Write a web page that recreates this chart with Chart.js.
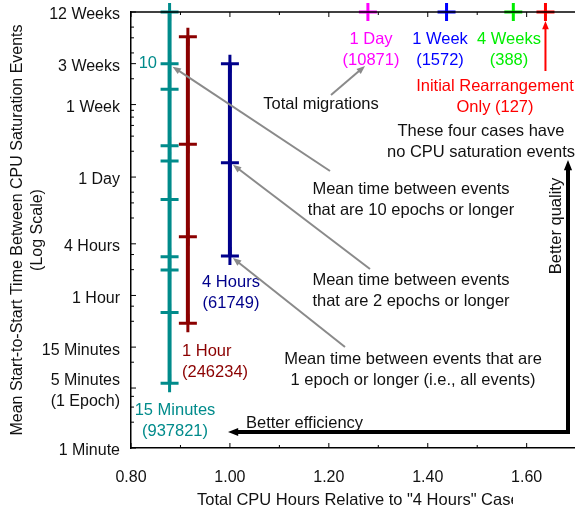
<!DOCTYPE html>
<html>
<head>
<meta charset="utf-8">
<script src="https://cdn.jsdelivr.net/npm/chart.js@4.4.0/dist/chart.umd.min.js"></script>
<style>
  html, body { margin: 0; padding: 0; background: #fff; overflow: hidden; }
</style>
</head>
<body>
<canvas id="satChart" width="600" height="512"></canvas>
<script>
// x = total CPU hours relative to "4 Hours" case, y = minutes between events (log)
const xTicks = [0.8, 1.0, 1.2, 1.4, 1.6];
const xMinorTicks = [0.9, 1.1, 1.3, 1.5, 1.7];
const yTicks = [1, 5, 15, 60, 240, 1440, 10080, 30240, 120960];
const yTickLabels = ['1 Minute', ['5 Minutes', '(1 Epoch)'], '15 Minutes', '1 Hour', '4 Hours', '1 Day', '1 Week', '3 Weeks', '12 Weeks'];
const yMinorTicks = [2, 3, 4, 10, 30, 45, 120, 180, 480, 720, 960, 2880, 4320, 5760, 7200, 8640, 20160, 40320, 60480, 80640];

// cases with saturation events
const min15X = 0.878;
const min15Times = [120960, 30240, 15160, 3340, 2210, 790, 170, 119, 38, 5.7];
const hour1X = 0.915;
const hour1Times = [62200, 3465, 290, 28.4];
const hour4X = 1.0;
const hour4Times = [30240, 2115, 173];
const migrations = [937821, 246234, 61749];

// cases with no saturation events (drawn at the top)
const noEventNames = ['1 Day', '1 Week', '4 Weeks', 'Initial Rearrangement'];
const noEventX = [1.279, 1.438, 1.573, 1.638];
const noEventMigrations = [10871, 1572, 388, 127];
const topValue = 120960;

const teal = '#008b8b', darkRed = '#8b0000', navy = '#00008b';
const noEventColors = ['#ff00ff', '#0000ff', '#00ee00', '#ff0000'];
const FONT = '"Liberation Sans", Arial, sans-serif';
const ink = '#111';
const xTitle = 'Total CPU Hours Relative to "4 Hours" Case';

function seriesSet(label, xv, times, color) {
  return {
    label: label,
    data: times.map(t => ({ x: xv, y: t })),
    showLine: true,
    borderColor: color,
    backgroundColor: color,
    borderWidth: 4,
    pointStyle: 'cross',
    pointRadius: 9,
    pointHoverRadius: 9,
    pointBorderWidth: 3,
    pointBorderColor: color,
    clip: false
  };
}

const datasets = [
  seriesSet('15 Minutes', min15X, min15Times, teal),
  seriesSet('1 Hour', hour1X, hour1Times, darkRed),
  seriesSet('4 Hours', hour4X, hour4Times, navy)
];
noEventNames.forEach((n, i) => {
  datasets.push(seriesSet(n, noEventX[i], [topValue], noEventColors[i]));
});

function arrow(ctx, x1, y1, x2, y2, color, width, head) {
  const ang = Math.atan2(y2 - y1, x2 - x1);
  ctx.strokeStyle = color;
  ctx.fillStyle = color;
  ctx.lineWidth = width;
  ctx.beginPath();
  ctx.moveTo(x1, y1);
  ctx.lineTo(x2 - Math.cos(ang) * head * 0.7, y2 - Math.sin(ang) * head * 0.7);
  ctx.stroke();
  ctx.beginPath();
  ctx.moveTo(x2, y2);
  ctx.lineTo(x2 - head * Math.cos(ang - 0.38), y2 - head * Math.sin(ang - 0.38));
  ctx.lineTo(x2 - head * Math.cos(ang + 0.38), y2 - head * Math.sin(ang + 0.38));
  ctx.closePath();
  ctx.fill();
}

function lines(ctx, text, x, y, color, align) {
  ctx.fillStyle = color;
  ctx.textAlign = align || 'center';
  ctx.textBaseline = 'middle';
  text.forEach((t, i) => ctx.fillText(t, x, y + i * 21.5));
}

const decor = {
  id: 'decor',
  afterDraw(chart) {
    const { ctx, chartArea: a, scales: { x, y } } = chart;
    ctx.save();
    // frame top and inside ticks
    ctx.strokeStyle = '#000';
    ctx.lineWidth = 1.5;
    ctx.beginPath();
    ctx.moveTo(a.left, a.top);
    ctx.lineTo(a.right, a.top);
    ctx.stroke();
    ctx.lineWidth = 1;
    const tick = (x1, y1, x2, y2) => { ctx.beginPath(); ctx.moveTo(x1, y1); ctx.lineTo(x2, y2); ctx.stroke(); };
    xTicks.forEach(v => { const p = x.getPixelForValue(v); tick(p, a.bottom, p, a.bottom - 5); tick(p, a.top, p, a.top + 5); });
    xMinorTicks.forEach(v => { const p = x.getPixelForValue(v); tick(p, a.bottom, p, a.bottom - 3); tick(p, a.top, p, a.top + 3); });
    yTicks.forEach(v => { const p = y.getPixelForValue(v); tick(a.left, p, a.left + 5, p); });
    yMinorTicks.forEach(v => { const p = y.getPixelForValue(v); tick(a.left, p, a.left + 3, p); });

    ctx.font = '16.5px ' + FONT;
    // x axis title, cut off on the right as in the original figure
    ctx.save();
    ctx.beginPath();
    ctx.rect(0, a.bottom + 1, 513, 80);
    ctx.clip();
    lines(ctx, [xTitle], 197, 500, ink, 'left');
    ctx.restore();

    // case labels
    lines(ctx, ['10'], 157, y.getPixelForValue(min15Times[1]), teal, 'right');
    lines(ctx, ['15 Minutes', '(' + migrations[0] + ')'], 175, 410, teal);
    lines(ctx, ['1 Hour', '(' + migrations[1] + ')'], 182, 351, darkRed, 'left');
    lines(ctx, ['4 Hours', '(' + migrations[2] + ')'], 231, 282, navy);
    lines(ctx, [noEventNames[0], '(' + noEventMigrations[0] + ')'], 371, 39, noEventColors[0]);
    lines(ctx, [noEventNames[1], '(' + noEventMigrations[1] + ')'], 440, 39, noEventColors[1]);
    lines(ctx, [noEventNames[2], '(' + noEventMigrations[2] + ')'], 509, 39, noEventColors[2]);
    lines(ctx, [noEventNames[3], 'Only (' + noEventMigrations[3] + ')'], 495, 86, noEventColors[3]);

    // notes
    lines(ctx, ['Total migrations'], 321, 104, ink);
    lines(ctx, ['These four cases have', 'no CPU saturation events'], 481, 131, ink);
    lines(ctx, ['Mean time between events', 'that are 10 epochs or longer'], 411, 189, ink);
    lines(ctx, ['Mean time between events', 'that are 2 epochs or longer'], 411, 280, ink);
    lines(ctx, ['Mean time between events that are', '1 epoch or longer (i.e., all events)'], 413, 359, ink);
    lines(ctx, ['Better efficiency'], 246, 423, ink, 'left');

    ctx.save();
    ctx.translate(556, 226);
    ctx.rotate(-Math.PI / 2);
    lines(ctx, ['Better quality'], 0, 0, ink);
    ctx.restore();

    // leader arrows
    const gray = '#8a8a8a';
    arrow(ctx, 331, 95, 365, 66, gray, 2, 9);
    const p10x = x.getPixelForValue(min15X), p10y = y.getPixelForValue(min15Times[1]);
    arrow(ctx, 330, 171, p10x + 3, p10y + 3, gray, 2, 9);
    const n4x = x.getPixelForValue(hour4X);
    arrow(ctx, 370, 269, n4x + 3, y.getPixelForValue(hour4Times[1]) + 2, gray, 2, 9);
    arrow(ctx, 345, 347, n4x + 3, y.getPixelForValue(hour4Times[2]) + 2, gray, 2, 9);
    const rx = x.getPixelForValue(noEventX[3]);
    arrow(ctx, rx, 71, rx, y.getPixelForValue(topValue) + 9, '#ff0000', 2, 9);

    // better efficiency / quality arrows
    ctx.lineJoin = 'miter';
    ctx.strokeStyle = '#000';
    ctx.lineWidth = 4;
    ctx.beginPath();
    ctx.moveTo(238, 432);
    ctx.lineTo(568, 432);
    ctx.lineTo(568, 170);
    ctx.stroke();
    arrow(ctx, 240, 432, 228, 432, '#000', 4, 11);
    arrow(ctx, 568, 172, 568, 160, '#000', 4, 11);
    ctx.restore();
  }
};

new Chart(document.getElementById('satChart').getContext('2d'), {
  type: 'scatter',
  data: { datasets: datasets },
  options: {
    responsive: false,
    animation: false,
    events: [],
    layout: { padding: { left: 0, top: 12, right: 7, bottom: 0 } },
    plugins: { legend: { display: false }, tooltip: { enabled: false } },
    scales: {
      x: {
        type: 'linear',
        min: 0.8,
        max: 1.724,
        grid: { display: false, drawTicks: false },
        border: { color: '#000', width: 1.5 },
        afterBuildTicks: s => { s.ticks = xTicks.map(v => ({ value: v })); },
        afterFit: s => { s.height = 64; s.paddingLeft = 0; s.paddingRight = 0; },
        ticks: {
          padding: 20, color: ink, autoSkip: false, maxRotation: 0,
          font: { family: FONT, size: 16 },
          callback: v => Number(v).toFixed(2)
        },
        title: { display: false }
      },
      y: {
        type: 'logarithmic',
        min: 1,
        max: 120960,
        grid: { display: false, drawTicks: false },
        border: { color: '#000', width: 1.5 },
        afterBuildTicks: s => { s.ticks = yTicks.map(v => ({ value: v })); },
        afterFit: s => { s.width = 131; s.paddingTop = 0; s.paddingBottom = 0; },
        ticks: {
          padding: 11, labelOffset: 3, color: ink, autoSkip: false,
          font: { family: FONT, size: 16, lineHeight: 1.35 },
          callback: v => yTickLabels[yTicks.indexOf(v)]
        },
        title: {
          display: true, text: ['Mean Start-to-Start Time Between CPU Saturation Events', '(Log Scale)'], color: ink,
          font: { family: FONT, size: 16, lineHeight: 1.25 }, padding: { top: 8, bottom: 0 }
        }
      }
    }
  },
  plugins: [decor]
});
</script>
</body>
</html>
